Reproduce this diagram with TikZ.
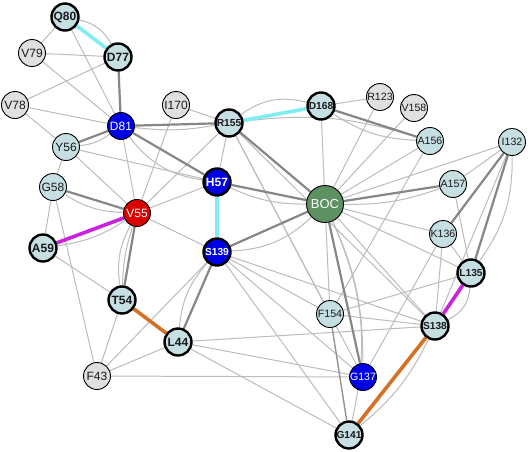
\documentclass[tikz,border=0pt]{standalone}
\usepackage{fontspec}
\setmainfont{Liberation Sans}
\usetikzlibrary{backgrounds}
\definecolor{nlb}{RGB}{198,223,227}
\definecolor{ngr}{RGB}{224,224,224}
\definecolor{nbl}{RGB}{0,0,228}
\definecolor{nrd}{RGB}{218,0,0}
\definecolor{ngn}{RGB}{94,145,98}
\definecolor{elt}{RGB}{188,188,188}
\definecolor{edk}{RGB}{135,135,135}
\definecolor{ecy}{RGB}{128,238,240}
\definecolor{emg}{RGB}{204,34,221}
\definecolor{eor}{RGB}{214,112,36}
\begin{document}
\begin{tikzpicture}[x=1pt,y=1pt,
  nd/.style={circle,draw=black,line width=0.9pt,minimum size=27pt,inner sep=0pt,
    font=\fontsize{12}{12}\selectfont,text=black!90},
  lb/.style={nd,fill=nlb},
  gr/.style={nd,fill=ngr},
  bl/.style={nd,fill=nbl,text=white},
  rd/.style={nd,fill=nrd,text=white},
  gn/.style={nd,fill=ngn,text=white,minimum size=37pt,font=\fontsize{13}{13}\selectfont},
  thk/.style={line width=2.4pt,execute at begin node=\bfseries},
  sm/.style={font=\fontsize{10.6}{10.6}\selectfont},
  smb/.style={font=\fontsize{10.2}{10.2}\selectfont},
  le/.style={draw=elt,line width=1pt},
  de/.style={draw=edk,line width=2.2pt},
  me/.style={draw=edk!90,line width=1.4pt},
  cy/.style={draw=ecy,line width=3.6pt},
  mg/.style={draw=emg,line width=3.6pt},
  og/.style={draw=eor,line width=3.6pt}]
\useasboundingbox (0,0) rectangle (528,-451);
% nodes
\node[lb,thk] (Q80) at (65,-17) {Q80};
\node[gr] (V79) at (32,-53) {V79};
\node[lb,thk] (D77) at (118,-57) {D77};
\node[gr] (V78) at (15,-105) {V78};
\node[bl] (D81) at (121,-126) {D81};
\node[gr] (I170) at (176,-105) {I170};
\node[lb,thk,smb] (R155) at (229,-123) {R155};
\node[lb] (Y56) at (66,-147) {Y56};
\node[lb] (G58) at (53,-187) {G58};
\node[rd] (V55) at (137,-213) {V55};
\node[bl,thk] (H57) at (217,-182) {H57};
\node[bl,thk,smb] (S139) at (217,-252) {S139};
\node[gn] (BOC) at (325,-204) {BOC};
\node[lb,thk,smb] (D168) at (321,-106) {D168};
\node[gr,sm] (R123) at (380,-97) {R123};
\node[gr,sm] (V158) at (414,-108) {V158};
\node[lb,sm] (A156) at (430,-141) {A156};
\node[lb,sm] (I132) at (512,-142) {I132};
\node[lb,sm] (A157) at (453,-184) {A157};
\node[lb,sm] (K136) at (443,-234) {K136};
\node[lb,thk,smb] (L135) at (471,-273) {L135};
\node[lb,thk,smb] (S138) at (435,-326) {S138};
\node[lb,sm] (F154) at (330,-314) {F154};
\node[bl,sm] (G137) at (363,-377) {G137};
\node[lb,thk,smb] (G141) at (349,-435) {G141};
\node[lb,thk] (T54) at (122,-300) {T54};
\node[lb,thk] (A59) at (43,-248) {A59};
\node[lb,thk] (L44) at (178,-342) {L44};
\node[gr] (F43) at (97,-376) {F43};
% edges
\begin{pgfonlayer}{background}
\fill[white] (0,0) rectangle (528,-451);
% light straight
\foreach \a/\b in {Q80/V79,Q80/D81,V79/D77,V79/D81,D77/V78,V78/D81,V78/Y56,
  I170/R155,I170/V55,D81/V55,Y56/G58,Y56/V55,Y56/H57,G58/A59,G58/F43,
  V55/H57,V55/R155,V55/S139,A59/T54,T54/F43,F43/L44,F43/S139,F43/G137,
  L44/S138,L44/G137,L44/G141,R155/H57,R155/F154,R155/S138,R155/G137,
  D168/R123,D168/BOC,R123/BOC,V158/BOC,A156/BOC,A156/F154,I132/A157,
  I132/BOC,I132/S138,A157/L135,K136/L135,K136/S138,K136/G137,K136/BOC,
  L135/BOC,L135/F154,S138/BOC,S138/F154,S138/S139,F154/BOC,S139/F154,
  S139/G137,S139/G141}
  \draw[le] (\a) -- (\b);
% light arcs
\draw[le] (Q80) to[bend left=25] (D77);
\draw[le] (D81) to[bend right=8] (R155);
\draw[le] (D81) to[bend left=15] (Y56);
\draw[le] (G58) to[bend right=15] (V55);
\draw[le] (V55) to[bend left=12] (A59);
\draw[le] (V55) to[bend right=8] (T54);
\draw[le] (V55) to[bend right=18] (T54);
\draw[le] (L44) to[bend left=18] (S139);
\draw[le] (H57) to[bend right=12] (BOC);
\draw[le] (S139) to[bend right=20] (BOC);
\draw[le] (R155) to[bend left=25] (D168);
\draw[le] (R155) to[bend left=12] (A156);
\draw[le] (D168) to[bend right=15] (A156);
\draw[le] (BOC) to[bend right=10] (A157);
\draw[le] (I132) to[bend left=18] (L135);
\draw[le] (L135) to[bend left=30] (S138);
\draw[le] (S138) to[bend left=12] (G141);
\draw[le] (D81) to[bend right=22] (H57);
\draw[le] (BOC) to[bend left=12] (G137);
\draw[le] (BOC) to[bend left=18] (G141);
% dark
\foreach \a/\b in {D77/D81,D81/R155,D81/Y56,D81/H57,G58/V55,V55/T54,L44/S139,
  H57/BOC,R155/BOC,S139/BOC,D168/A156,A157/BOC,I132/K136,I132/L135,BOC/G137}
  \draw[de] (\a) -- (\b);
\draw[me] (F154) -- (G141);
% coloured
\draw[cy] (Q80) -- (D77);
\draw[cy] (R155) -- (D168);
\draw[cy] (H57) -- (S139);
\draw[mg] (V55) -- (A59);
\draw[mg] (L135) -- (S138);
\draw[og] (T54) -- (L44);
\draw[og] (S138) -- (G141);
\end{pgfonlayer}
\end{tikzpicture}
\end{document}
